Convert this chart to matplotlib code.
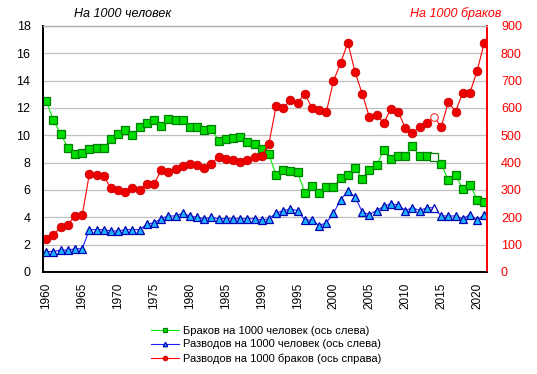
import numpy as np
import matplotlib
matplotlib.use('Agg')
import matplotlib.pyplot as plt

plt.rcParams['font.family'] = ['Liberation Sans', 'DejaVu Sans']

years = list(range(1960, 2022))

marriages = [12.5, 11.1, 10.1, 9.1, 8.6, 8.7, 9.0, 9.1, 9.1, 9.7,
             10.1, 10.4, 10.0, 10.6, 10.9, 11.1, 10.7, 11.2, 11.1, 11.1,
             10.6, 10.6, 10.4, 10.5, 9.6, 9.7, 9.8, 9.9, 9.5, 9.4,
             9.0, 8.6, 7.1, 7.5, 7.4, 7.3, 5.8, 6.3, 5.8, 6.2,
             6.2, 6.9, 7.1, 7.6, 6.8, 7.5, 7.8, 8.9, 8.3, 8.5,
             8.5, 9.2, 8.5, 8.5, 8.4, 7.9, 6.7, 7.1, 6.1, 6.4,
             5.3, 5.1]

divorces = [1.5, 1.5, 1.6, 1.6, 1.7, 1.7, 3.1, 3.1, 3.1, 3.0,
            3.0, 3.1, 3.1, 3.1, 3.5, 3.6, 3.9, 4.1, 4.1, 4.3,
            4.1, 4.0, 3.9, 4.0, 3.9, 3.9, 3.9, 3.9, 3.9, 3.9,
            3.8, 3.9, 4.3, 4.5, 4.6, 4.5, 3.8, 3.8, 3.4, 3.6,
            4.3, 5.3, 5.9, 5.5, 4.4, 4.2, 4.5, 4.8, 5.0, 4.9,
            4.5, 4.7, 4.5, 4.7, 4.7, 4.1, 4.1, 4.1, 3.9, 4.2,
            3.8, 4.2]

div_per_marr = [121, 137, 163, 173, 206, 208, 359, 355, 351, 307,
                300, 293, 308, 300, 321, 322, 372, 367, 378, 388,
                394, 390, 380, 396, 421, 415, 411, 404, 411, 421,
                426, 468, 607, 600, 629, 619, 652, 600, 593, 585,
                699, 765, 839, 732, 652, 567, 574, 545, 597, 587,
                527, 509, 531, 544, 567, 531, 622, 587, 656, 656,
                735, 839]

hollow_year = 2014
hi = years.index(hollow_year)
solid = [i for i in range(len(years)) if i != hi]

fig = plt.figure(figsize=(5.37, 3.74), dpi=100)
ax = fig.add_axes([43 / 537, 1 - 272 / 374, 444 / 537, 246 / 374])
ax2 = ax.twinx()

# left axis series
ax.plot(years, marriages, color='#00ee00', lw=0.8, marker='s', ms=5.3,
        mfc='#00dd00', mec='#008000', mew=0.9, markevery=solid,
        label='Браков на 1000 человек (ось слева)')
ax.plot(years[hi], marriages[hi], ls='none', marker='s', ms=5.3,
        mfc='white', mec='#008000', mew=0.9)
ax.plot(years, divorces, color='#2020ff', lw=0.8, marker='^', ms=5.8,
        mfc='#1eb4ff', mec='#0000b0', mew=0.9, markevery=solid,
        label='Разводов на 1000 человек (ось слева)')
ax.plot(years[hi], divorces[hi], ls='none', marker='^', ms=5.8,
        mfc='white', mec='#0000b0', mew=0.9)

# right axis series
ax2.plot(years, div_per_marr, color='#ff0000', lw=0.8, marker='o', ms=6.2,
         mfc='#ee0000', mec='#cc0000', mew=0.6, markevery=solid,
         label='Разводов на 1000 браков (ось справа)')
ax2.plot(years[hi], div_per_marr[hi], ls='none', marker='o', ms=5.5,
         mfc='white', mec='#ff3030', mew=0.8)

ax.set_xlim(1959.54, 2021.38)
ax.set_ylim(0, 18)
ax2.set_ylim(0, 900)
ax.set_yticks(range(0, 19, 2))
ax2.set_yticks(range(0, 901, 100))
ax.set_xticks(range(1960, 2021, 5))

ax.grid(axis='y', color='#c0c0c0', lw=0.9)
ax.set_axisbelow(True)

ax.tick_params(axis='y', length=0, pad=9, labelsize=9)
ax.tick_params(axis='x', length=0, pad=8, labelsize=8.5, labelrotation=90)
ax2.tick_params(axis='y', length=0, pad=10, labelsize=9, labelcolor='#ff0000')

for a in (ax, ax2):
    a.spines['top'].set_color('#b0b0b0')
    a.spines['top'].set_linewidth(0.9)
    a.spines['left'].set_color('black')
    a.spines['left'].set_linewidth(1.4)
    a.spines['bottom'].set_color('black')
    a.spines['bottom'].set_linewidth(1.2)
    a.spines['right'].set_color('#ff0000')
    a.spines['right'].set_linewidth(1.4)

fig.text(74 / 537, 1 - 14 / 374, 'На 1000 человек', style='italic',
         fontsize=9, va='center', ha='left')
fig.text(410 / 537, 1 - 14 / 374, 'На 1000 браков', style='italic',
         fontsize=9, va='center', ha='left', color='#ff0000')

h1, l1 = ax.get_legend_handles_labels()
h2, l2 = ax2.get_legend_handles_labels()
fig.legend(h1 + h2, l1 + l2, loc='upper left', bbox_to_anchor=(145 / 537, 1 - 320 / 374),
           frameon=False, fontsize=8, markerscale=0.55, handlelength=2.6,
           labelspacing=0.35, handletextpad=0.3, borderpad=0)

fig.savefig('out.png', dpi=100)
